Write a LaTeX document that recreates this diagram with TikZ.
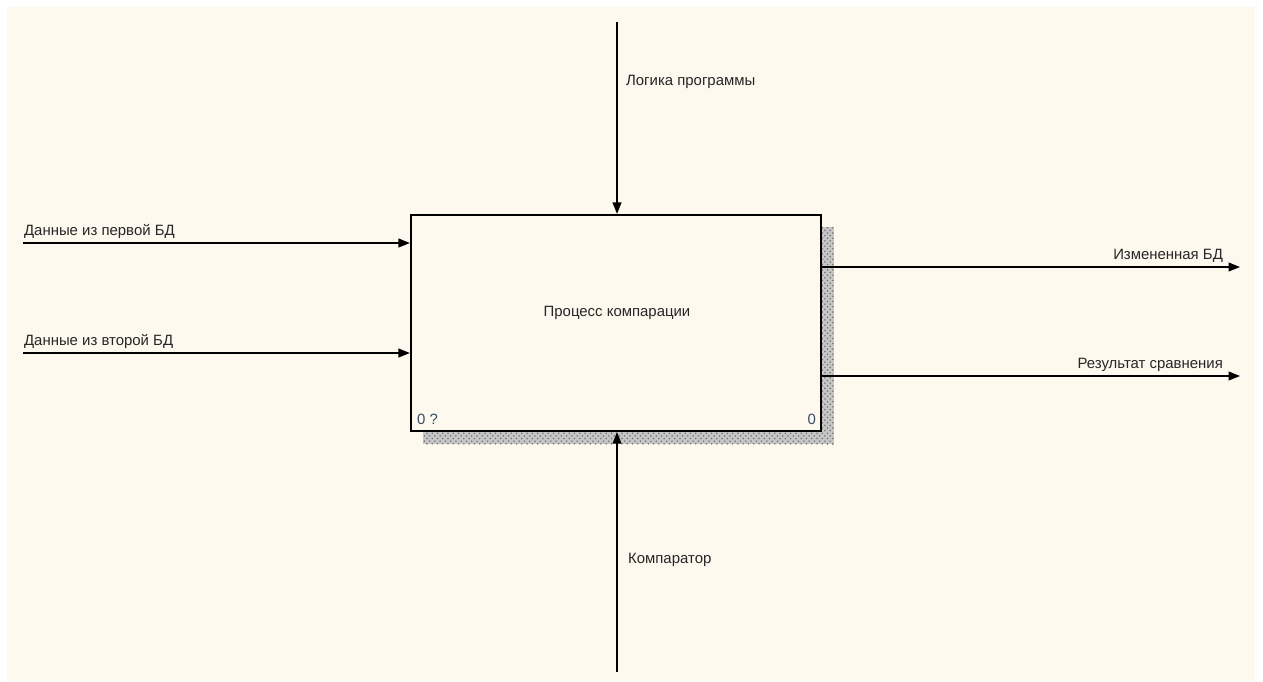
\documentclass[tikz,border=0pt]{standalone}
\usepackage{fontspec}
\setmainfont{Liberation Sans}
\usepackage{xcolor}
\definecolor{cBg}{HTML}{FDF9EE}
\definecolor{cText}{HTML}{262626}
\definecolor{cNum}{HTML}{3A4A66}
\usepackage{tikz}
\usetikzlibrary{positioning, arrows.meta, patterns}

\begin{document}
\begin{tikzpicture}[
    x=0.02cm, y=-0.02cm,
    procbox/.style={draw, line width=1.3pt, fill=cBg, minimum width=8.2cm,
                    minimum height=4.32cm, inner sep=0pt},
    arr/.style={-{Triangle[length=6.5pt, width=5pt]}, line width=0.8pt},
    shade/.style={fill=gray!45, postaction={pattern=crosshatch dots, pattern color=black!55}},
    lbl/.style={font=\fontsize{8.5}{10}\selectfont, text=cText, inner sep=1pt},
    num/.style={font=\fontsize{8.5}{10}\selectfont, text=cNum, inner sep=1pt}
]
\useasboundingbox (0,0) rectangle (1263,681);
\fill[white] (0,0) rectangle (1263,681);
\fill[cBg] (7,7) rectangle (1255,681);

% shadow of the activity box
\path[shade] (822,227) rectangle (834,444);
\path[shade] (423,432) rectangle (834,444);

\node[procbox] (proc) at (616,323) {};
\node[lbl] (title) at (617,313) {Процесс компарации};
\node[num, anchor=south west] (nodeid) at (415,427) {0 ?};
\node[num, anchor=south east] (nodenr) at (818,427) {0};

\coordinate (ctrl) at (617,22);
\coordinate (mech) at (617,672);
\coordinate (inA) at (23,243);
\coordinate (inB) at (23,353);
\coordinate (outA) at (1240,267);
\coordinate (outB) at (1240,376);

\draw[arr] (ctrl) -- (ctrl |- proc.north);
\draw[arr] (mech) -- (mech |- proc.south);
\draw[arr] (inA) -- (inA -| proc.west);
\draw[arr] (inB) -- (inB -| proc.west);
\draw[arr] (outA -| proc.east) -- (outA);
\draw[arr] (outB -| proc.east) -- (outB);

\node[lbl, anchor=west] (ctrllbl) at (624,82) {Логика программы};
\node[lbl, anchor=west] (mechlbl) at (626,560) {Компаратор};
\node[lbl, anchor=south west] (inAlbl) at (22,241) {Данные из первой БД};
\node[lbl, anchor=south west] (inBlbl) at (22,351) {Данные из второй БД};
\node[lbl, anchor=south east] (outAlbl) at (1225,265) {Измененная БД};
\node[lbl, anchor=south east] (outBlbl) at (1225,374) {Результат сравнения};
\end{tikzpicture}
\end{document}
